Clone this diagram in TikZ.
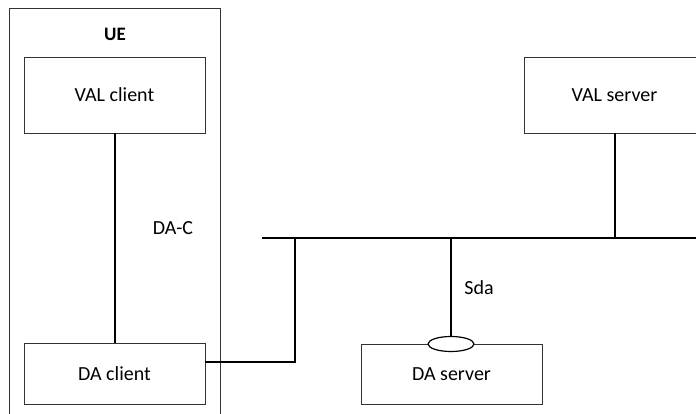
\documentclass[tikz,border=0pt]{standalone}
\usepackage{fontspec}
\setmainfont{Carlito}
\usetikzlibrary{shapes.geometric}
\begin{document}
\begin{tikzpicture}[x=1pt,y=-1pt,
  box/.style={draw=black!80,line width=0.8pt,minimum width=181pt,minimum height=76pt,inner sep=0pt,font=\fontsize{20}{22}\selectfont},
  frame/.style={draw=black!80,line width=0.8pt},
  link/.style={draw=black,line width=2pt},
  lbl/.style={font=\fontsize{20}{22}\selectfont,inner sep=0pt}]
\useasboundingbox (0,0) rectangle (696,414);
\begin{scope}
\clip (0,0) rectangle (696,414);
\draw[frame] (9,430) -- (9,8) -- (220,8) -- (220,430);
\node[box] (vals) at (614.5,95) {VAL server};
\end{scope}
\node[lbl,font=\fontsize{19}{21}\selectfont\bfseries] (ue) at (115,34) {UE};
\node[box] (valc) at (114.5,95) {VAL client};
\node[box,minimum height=61pt] (dac) at (114.5,373.5) {DA client};
\node[box,minimum height=60pt] (das) at (451.5,374) {DA server};
\node[draw=black,line width=1.2pt,ellipse,fill=white,minimum width=46pt,minimum height=15pt,inner sep=0pt] (port) at (451,344) {};
\coordinate (busL) at (262,238);
\coordinate (busR) at (696,238);
\coordinate (valsbus) at (615,238);
\coordinate (sdabus) at (451,238);
\coordinate (dacbus) at (295,238);
\coordinate (dacc) at (295,362);
\draw[link] (busL) -- (busR);
\draw[link] (valc.south) -- (dac.north);
\draw[link] (vals.south -| valsbus) -- (valsbus);
\draw[link] (sdabus) -- (port.north);
\draw[link] (dac.east |- dacc) -- (dacc) -- (dacbus);
\node[lbl] (dacl) at (173,228) {DA-C};
\node[lbl] (sdal) at (479,288) {Sda};
\end{tikzpicture}
\end{document}
